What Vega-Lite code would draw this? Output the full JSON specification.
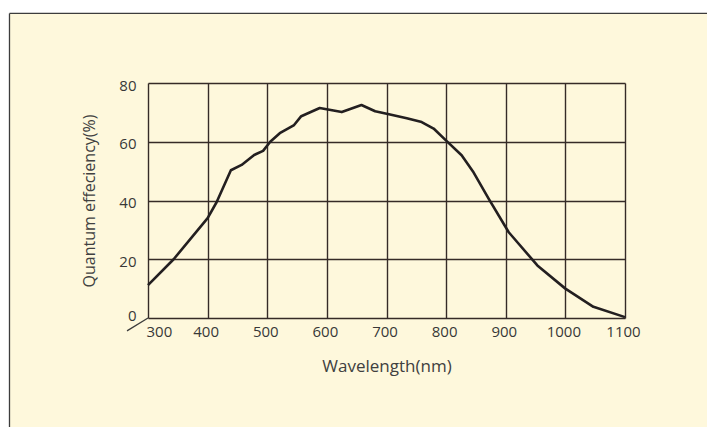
{
  "$schema": "https://vega.github.io/schema/vega-lite/v6.json",
  "width": 477,
  "height": 235,
  "autosize": {"type": "none"},
  "padding": {"left": 148, "top": 83, "right": 82, "bottom": 109},
  "background": "#fef8dc",
  "config": {
    "view": {"stroke": null},
    "font": "Open Sans",
    "axis": {
      "domain": false,
      "ticks": false,
      "grid": true,
      "gridColor": "#352b27",
      "gridWidth": 1.4,
      "gridOpacity": 1,
      "labelFont": "Open Sans",
      "labelFontSize": 15,
      "labelColor": "#383838",
      "titleFont": "Open Sans",
      "titleFontSize": 16,
      "titleFontWeight": "normal",
      "titleColor": "#404040"
    }
  },
  "datasets": {
    "qe": [
      {"wavelength": 300, "qe": 11.2},
      {"wavelength": 343, "qe": 20.0},
      {"wavelength": 400, "qe": 34.0},
      {"wavelength": 415, "qe": 39.4},
      {"wavelength": 439, "qe": 50.3},
      {"wavelength": 457, "qe": 52.1},
      {"wavelength": 478, "qe": 55.5},
      {"wavelength": 493, "qe": 56.9},
      {"wavelength": 505, "qe": 60.0},
      {"wavelength": 521, "qe": 62.9},
      {"wavelength": 545, "qe": 65.7},
      {"wavelength": 557, "qe": 68.7},
      {"wavelength": 588, "qe": 71.5},
      {"wavelength": 625, "qe": 70.1},
      {"wavelength": 658, "qe": 72.5},
      {"wavelength": 681, "qe": 70.4},
      {"wavelength": 706, "qe": 69.3},
      {"wavelength": 734, "qe": 68.0},
      {"wavelength": 759, "qe": 66.7},
      {"wavelength": 779, "qe": 64.5},
      {"wavelength": 801, "qe": 60.2},
      {"wavelength": 826, "qe": 55.4},
      {"wavelength": 845, "qe": 49.9},
      {"wavelength": 871, "qe": 40.7},
      {"wavelength": 905, "qe": 29.2},
      {"wavelength": 953, "qe": 17.9},
      {"wavelength": 1000, "qe": 10.0},
      {"wavelength": 1047, "qe": 3.8},
      {"wavelength": 1100, "qe": 0.3}
    ],
    "margins": [
      {"x": -300, "x2": 1500, "y": 103.7, "y2": 200},
      {"x": -300, "x2": 67.7, "y": -100, "y2": 200}
    ],
    "rules": [
      {"x": 67.7, "x2": 1500, "y": 103.7, "y2": 103.7},
      {"x": 67.7, "x2": 67.7, "y": -100, "y2": 103.7},
      {"x": 264.8, "x2": 300, "y": -4.4, "y2": 0}
    ]
  },
  "layer": [
    {
      "data": {"name": "margins"},
      "mark": {"type": "rect", "fill": "#ffffff", "stroke": null},
      "encoding": {
        "x": {"field": "x", "type": "quantitative"},
        "x2": {"field": "x2"},
        "y": {"field": "y", "type": "quantitative"},
        "y2": {"field": "y2"}
      }
    },
    {
      "data": {"name": "rules"},
      "mark": {"type": "rule", "color": "#3c3c3c", "strokeWidth": 1.3},
      "encoding": {
        "x": {"field": "x", "type": "quantitative"},
        "x2": {"field": "x2"},
        "y": {"field": "y", "type": "quantitative"},
        "y2": {"field": "y2"}
      }
    },
    {
      "data": {"name": "qe"},
      "mark": {"type": "line", "color": "#231f20", "strokeWidth": 2.6, "strokeJoin": "round"},
      "encoding": {
        "x": {
          "field": "wavelength",
          "type": "quantitative",
          "scale": {"domain": [300, 1100], "nice": false, "zero": false},
          "axis": {
            "values": [300, 400, 500, 600, 700, 800, 900, 1000, 1100],
            "format": "d",
            "title": "Wavelength(nm)",
            "titleFontSize": 17,
            "labelPadding": 6,
            "labelOffset": -2,
            "labelAlign": {"expr": "datum.value == 300 ? 'left' : 'center'"},
            "titlePadding": 19
          }
        },
        "y": {
          "field": "qe",
          "type": "quantitative",
          "scale": {"domain": [0, 80], "nice": false},
          "axis": {
            "values": [0, 20, 40, 60, 80],
            "format": "d",
            "title": "Quantum effeciency(%)",
            "labelPadding": 12,
            "labelOffset": 2,
            "labelBaseline": {"expr": "datum.value == 0 ? 'alphabetic' : 'middle'"},
            "titlePadding": 21
          }
        }
      }
    }
  ]
}
